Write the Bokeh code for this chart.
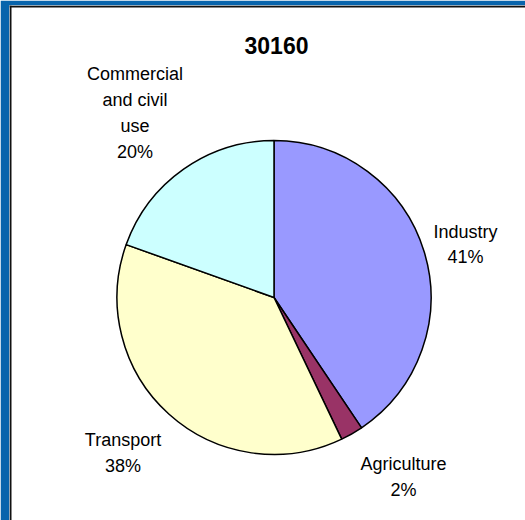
import math
from bokeh.plotting import figure
from bokeh.models import Range1d, ColumnDataSource, Span
from bokeh.core.properties import value
from bokeh.embed import file_html
from bokeh.resources import INLINE

# ---- data ----
title_text = "30160"
categories = ["Industry", "Agriculture", "Transport", "Commercial and civil use"]
amounts = [12240, 700, 11330, 5890]
colors = ["#9999FF", "#993366", "#FFFFCC", "#CCFFFF"]
label_lines = [["Industry"], ["Agriculture"], ["Transport"], ["Commercial", "and civil", "use"]]

# ---- layout (pixel positions: x = px, y = 520 - py) ----
W, H = 525, 520
FONT = "Liberation Sans"
cx, cy, R = 273.5, 520 - 297, 157
label_anchor = [(465, 231, 25), (403, 463, 26), (122.5, 439, 26), (134.5, 73, 26)]

total = sum(amounts)
fracs = [a / total for a in amounts]
starts, ends = [], []
acc = 0.0
for f in fracs:
    starts.append(math.pi / 2 - acc * 2 * math.pi)
    acc += f
    ends.append(math.pi / 2 - acc * 2 * math.pi)

p = figure(width=W, height=H, output_backend="svg", toolbar_location=None,
           x_range=Range1d(9, 525), y_range=Range1d(0, 515),
           min_border_left=9, min_border_top=5, min_border_right=0, min_border_bottom=0,
           border_fill_color="#0864AC", background_fill_color="white",
           outline_line_color=None)
p.axis.visible = False
p.grid.visible = False

src = ColumnDataSource(dict(start=starts, end=ends, color=colors, cat=categories))
p.wedge(x=cx, y=cy, radius=R, start_angle="start", end_angle="end", direction="clock",
        fill_color="color", line_color="black", line_width=1.5, source=src)

# labels
tx, ty, tt = [], [], []
for lines, frac, (ax, ab, sp) in zip(label_lines, fracs, label_anchor):
    all_lines = lines + [f"{round(frac * 100)}%"]
    for i, t in enumerate(all_lines):
        tx.append(ax)
        ty.append(520 - (ab + i * sp))
        tt.append(t)
p.text(x=tx, y=ty, text=tt, text_align="center", text_baseline="alphabetic",
       text_font=value(FONT), text_font_size="18px", text_color="black")

# title
p.text(x=[276], y=[520 - 45], text=[title_text], text_align="center", text_baseline="alphabetic",
       text_font=value(FONT), text_font_size="23px", text_font_style="bold", text_color="black")

# dark frame lines
p.add_layout(Span(location=10, dimension="height", line_color="#111111", line_width=2))
p.add_layout(Span(location=514, dimension="width", line_color="#111111", line_width=2))

open("out.html", "w").write(file_html(p, INLINE))
